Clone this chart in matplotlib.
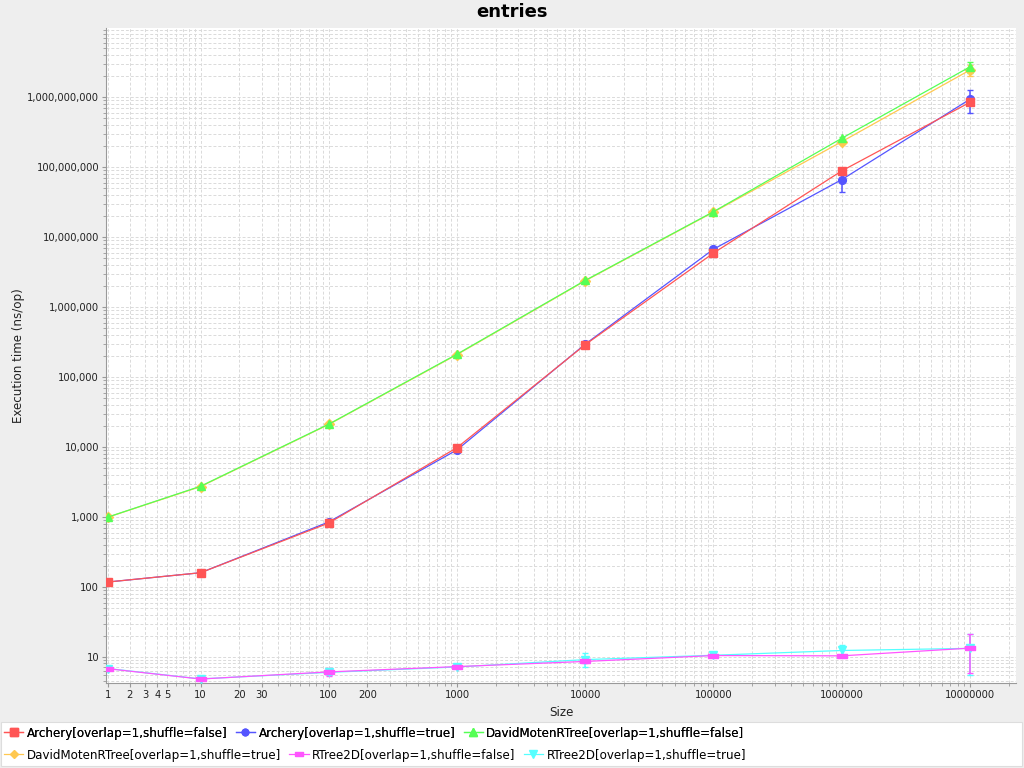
import numpy as np
import matplotlib
matplotlib.use("Agg")
import matplotlib.pyplot as plt
from matplotlib.lines import Line2D
from matplotlib.patches import Rectangle
from matplotlib.ticker import FixedLocator, FuncFormatter, NullFormatter

# Daten
sizes = [1, 10, 100, 1000, 10000, 100000, 1000000, 10000000]

archery_false = [118, 160, 820, 9800, 290000, 5900000, 88000000, 840000000]
archery_false_err = [2, 3, 20, 200, 5000, 150000, 4000000, 50000000]
archery_true = [118, 160, 850, 9100, 295000, 6700000, 66000000, 930000000]
archery_true_err = [2, 3, 20, 200, 5000, 200000, 22000000, 330000000]
moten_false = [1000, 2750, 21200, 212000, 2400000, 23000000, 257000000, 2700000000]
moten_false_err = [10, 30, 300, 3000, 30000, 300000, 8000000, 500000000]
moten_true = [995, 2720, 21000, 209000, 2370000, 22700000, 230000000, 2430000000]
moten_true_err = [10, 30, 300, 3000, 30000, 300000, 8000000, 420000000]
rtree_false = [6.45, 4.28, 5.7, 7.0, 8.5, 10.5, 10.4, 13.4]
rtree_false_err = [0.3, 0.2, 0.9, 0.3, 0.5, 0.3, 0.3, 8.0]
rtree_true = [6.5, 4.3, 5.6, 6.9, 9.1, 10.6, 12.4, 13.3]
rtree_true_err = [0.3, 0.2, 0.5, 0.3, 2.3, 0.5, 2.5, 8.2]

labels = [
    "Archery[overlap=1,shuffle=false]",
    "Archery[overlap=1,shuffle=true]",
    "DavidMotenRTree[overlap=1,shuffle=false]",
    "DavidMotenRTree[overlap=1,shuffle=true]",
    "RTree2D[overlap=1,shuffle=false]",
    "RTree2D[overlap=1,shuffle=true]",
]

x_ticks = [1, 2, 3, 4, 5, 10, 20, 30, 100, 200, 1000, 10000, 100000, 1000000, 10000000]
y_ticks = [10, 100, 1000, 10000, 100000, 1000000, 10000000, 100000000, 1000000000]

colors = ["#FF5555", "#5555FF", "#55FF55", "#FFC850", "#FF55FF", "#55FFFF"]
rect = [(-1, -0.55), (1, -0.55), (1, 0.55), (-1, 0.55), (-1, -0.55)]
markers = ["s", "o", "^", "D", rect, "v"]
msizes = [6, 5.6, 6.2, 4.8, 6.5, 6.2]


# JFreeChart-artige "adjusted" Log-Skala
def fwd(v):
    v = np.asarray(v, dtype=float)
    with np.errstate(divide="ignore", invalid="ignore"):
        w = np.where(v < 10, 0.9 * v + 1, v)
        return np.log10(np.maximum(w, 1e-12))


def inv(t):
    w = 10 ** np.asarray(t, dtype=float)
    return np.where(w < 10, (w - 1) / 0.9, w)


fig = plt.figure(figsize=(10.24, 7.68), dpi=100, facecolor="#EEEEEE")
ax = fig.add_axes([106 / 1024, 1 - 683 / 768, 910 / 1024, 655 / 768])
ax.set_facecolor("white")

ax.set_xscale("function", functions=(fwd, inv))
ax.set_yscale("function", functions=(fwd, inv))

series = [
    (archery_false, archery_false_err),
    (archery_true, archery_true_err),
    (moten_false, moten_false_err),
    (moten_true, moten_true_err),
    (rtree_false, rtree_false_err),
    (rtree_true, rtree_true_err),
]

# erste Serie liegt oben (wie im Original)
for i, (vals, err) in enumerate(series):
    ax.errorbar(sizes, vals, yerr=err, color=colors[i], lw=0.9, marker=markers[i],
                ms=msizes[i], mec=colors[i], capsize=2.5, elinewidth=1.1,
                capthick=1, zorder=3 + (5 - i) * 0.1)

ax.set_xlim(inv(0.263), inv(7.359))
ax.set_ylim(inv(0.629), inv(9.986))

# Ticks
x_minor = [k * 10 ** n for n in range(0, 8) for k in range(1, 10)]
x_minor = [v for v in x_minor if v not in x_ticks]
y_minor = [k * 10 ** n for n in range(0, 10) for k in range(1, 10)]
y_minor = [v for v in y_minor if v not in y_ticks and v >= 4]

ax.xaxis.set_major_locator(FixedLocator(x_ticks))
ax.xaxis.set_minor_locator(FixedLocator(x_minor))
ax.xaxis.set_major_formatter(FuncFormatter(lambda v, p: f"{int(round(v))}"))
ax.xaxis.set_minor_formatter(NullFormatter())
ax.yaxis.set_major_locator(FixedLocator(y_ticks))
ax.yaxis.set_minor_locator(FixedLocator(y_minor))
ax.yaxis.set_major_formatter(FuncFormatter(lambda v, p: f"{int(round(v)):,}"))
ax.yaxis.set_minor_formatter(NullFormatter())

ax.tick_params(which="both", direction="out", color="#999999", labelsize=7.2,
               labelcolor="#222222", pad=2)
ax.tick_params(which="major", length=3)
ax.tick_params(which="minor", length=2)

ax.grid(which="both", ls=(0, (3, 2)), color="#DADADA", lw=0.7)
ax.set_axisbelow(True)
for s in ["top", "right"]:
    ax.spines[s].set_visible(False)
for s in ["left", "bottom"]:
    ax.spines[s].set_color("#999999")

ax.set_xlabel("Size", fontsize=8.6, color="#222222", labelpad=4)
ax.set_ylabel("Execution time (ns/op)", fontsize=8.6, color="#222222")
ax.yaxis.set_label_coords((25 - 106) / 910, 0.5)
fig.text(0.5, 1 - 12 / 768, "entries", ha="center", va="center",
         fontsize=13, fontweight="bold")

# Legende
fig.add_artist(Rectangle((0.001, 1 - 766 / 768), 0.997, 44 / 768,
                         transform=fig.transFigure, facecolor="white",
                         edgecolor="#DDDDDD", lw=0.8, zorder=0))
handles = [Line2D([], [], color=colors[i], marker=markers[i], ms=msizes[i] * 0.85,
                  lw=0.9) for i in range(6)]
leg1 = fig.legend(handles[:3], labels[:3], ncol=3, loc="center left",
                  bbox_to_anchor=(-0.003, 1 - 733 / 768), frameon=False,
                  fontsize=8.6, handlelength=1.6, handletextpad=0.3,
                  columnspacing=0.7, borderpad=0.1)
fig.add_artist(leg1)
fig.legend(handles[3:], labels[3:], ncol=3, loc="center left",
           bbox_to_anchor=(-0.003, 1 - 755 / 768), frameon=False,
           fontsize=8.6, handlelength=1.6, handletextpad=0.3,
           columnspacing=0.7, borderpad=0.1)

fig.savefig("out.png", dpi=100, facecolor=fig.get_facecolor())
